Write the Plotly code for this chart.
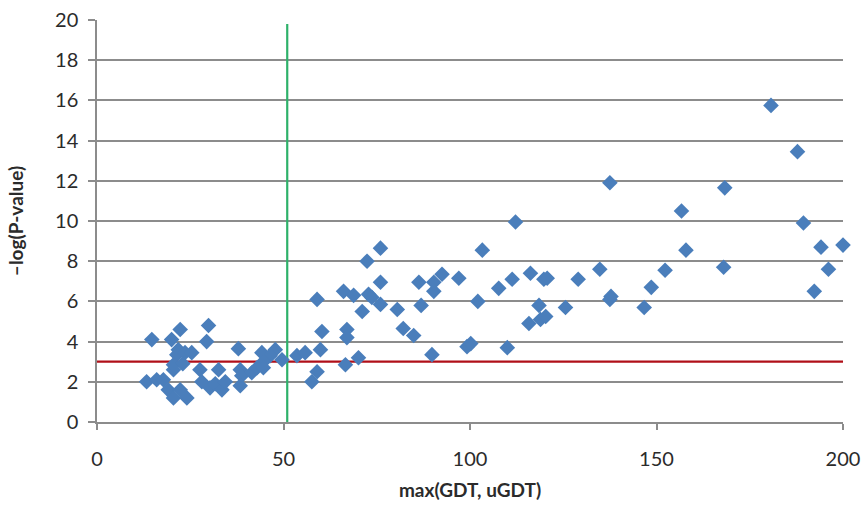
import plotly.graph_objects as go

gdt = [14.7, 22.3, 29.9, 20.0, 29.4, 21.8, 21.4, 23.6, 25.4, 20.5, 27.6, 32.6,
       13.3, 16.0, 17.8, 19.1, 20.5, 22.3, 24.1, 28.1, 30.3, 31.7, 33.5, 20.5, 23.0,
       37.9, 44.2, 47.8, 46.4, 44.6, 49.6, 53.6, 55.8, 34.4, 38.4, 38.8, 38.4, 41.5,
       42.9, 44.6, 57.6, 59.0, 60.3, 59.9, 59.0,
       76.0, 72.4, 76.0, 66.1, 68.8, 72.8, 73.7, 76.0, 80.5, 71.1, 67.0, 67.0, 70.1,
       66.6, 103.3, 86.3, 90.3, 92.5, 90.3, 97.0, 86.9, 102.1, 82.1, 84.9, 99.2,
       100.2, 89.8, 112.2, 116.2, 111.3, 119.8, 120.7, 107.7, 129.0, 118.5, 125.6,
       115.8, 118.9, 120.3, 110.0, 137.5, 134.8, 137.5, 137.8, 146.7, 148.6, 152.3,
       180.7, 187.8, 168.3, 156.7, 189.4, 157.9, 194.1, 200.0, 168.0, 196.1, 192.3]
logp = [4.1, 4.6, 4.8, 4.1, 4.0, 3.6, 3.35, 3.45, 3.45, 2.6, 2.6, 2.6,
        2.0, 2.1, 2.1, 1.6, 1.2, 1.6, 1.2, 2.0, 1.7, 1.9, 1.6, 2.85, 2.9,
        3.65, 3.45, 3.6, 3.3, 3.0, 3.1, 3.3, 3.45, 2.0, 2.6, 2.3, 1.8, 2.45,
        2.7, 2.7, 2.0, 2.5, 4.5, 3.6, 6.1,
        8.65, 8.0, 6.95, 6.5, 6.3, 6.35, 6.2, 5.85, 5.6, 5.5, 4.6, 4.2, 3.2,
        2.85, 8.55, 6.95, 6.95, 7.35, 6.5, 7.15, 5.8, 6.0, 4.65, 4.3, 3.75,
        3.9, 3.35, 9.95, 7.4, 7.1, 7.1, 7.15, 6.65, 7.1, 5.8, 5.7,
        4.9, 5.1, 5.25, 3.7, 11.9, 7.6, 6.1, 6.25, 5.7, 6.7, 7.55,
        15.75, 13.45, 11.65, 10.5, 9.9, 8.55, 8.7, 8.8, 7.7, 7.6, 6.5]

threshold_y = 3
cutoff_x = 51
cutoff_top = 19.8
x_ticks = [0, 50, 100, 150, 200]
y_ticks = [0, 2, 4, 6, 8, 10, 12, 14, 16, 18, 20]

FONT = "Lato, 'Open Sans', sans-serif"
GRID = "#8c8c8c"
TXT = "#2b2b2b"

fig = go.Figure()
fig.add_trace(go.Scatter(
    x=[0, 200], y=[threshold_y, threshold_y], mode="lines",
    line=dict(color="#b00f18", width=2.2), hoverinfo="skip", showlegend=False))
fig.add_trace(go.Scatter(
    x=[cutoff_x, cutoff_x], y=[0, cutoff_top], mode="lines",
    line=dict(color="#2eb16a", width=2.2), hoverinfo="skip", showlegend=False))
fig.add_trace(go.Scatter(
    x=gdt, y=logp, mode="markers",
    marker=dict(symbol="diamond", size=12, color="#4a7ebb", line=dict(width=0)),
    cliponaxis=False, showlegend=False))

fig.update_layout(
    width=865, height=507,
    margin=dict(l=97, r=22, t=20, b=85),
    paper_bgcolor="white", plot_bgcolor="white",
    font=dict(family=FONT, size=20, color=TXT),
    xaxis=dict(
        automargin=False, ticklabeloverflow="allow",
        range=[0, 200], tickvals=x_ticks, showgrid=False, zeroline=False,
        showline=True, linecolor=GRID, linewidth=1.5,
        ticks="outside", ticklen=6, tickcolor=GRID, tickwidth=1.5,
        ticklabelstandoff=12,
        title=dict(text="<b>max(GDT, uGDT)</b>", font=dict(family=FONT, size=19, color=TXT))),
    yaxis=dict(
        automargin=False, ticklabeloverflow="allow",
        range=[0, 20], tickvals=y_ticks, showgrid=True, gridcolor=GRID, gridwidth=1.5,
        zeroline=False, showline=True, linecolor=GRID, linewidth=1.5,
        ticks="outside", ticklen=7, tickcolor=GRID, tickwidth=1.5,
        ticklabelstandoff=6,
        title=dict(text="<b>–log(P-value)</b>", standoff=26,
                   font=dict(family=FONT, size=19, color=TXT))),
)

fig.write_html(
    "out.html",
    config={"displayModeBar": False},
    post_script="document.body.style.margin='0';document.body.style.overflow='hidden';")
